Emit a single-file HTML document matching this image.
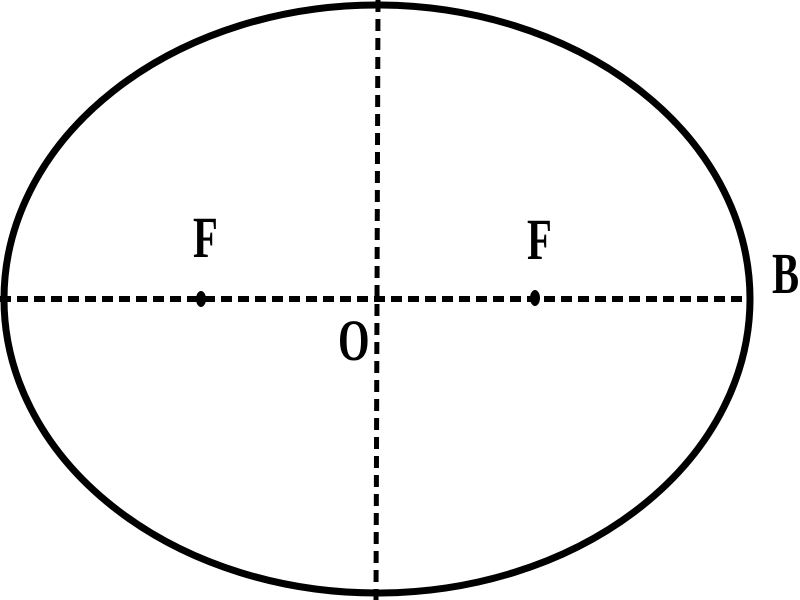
<!DOCTYPE html>
<html><head><style>
html,body{margin:0;padding:0;background:#fff;}
svg{display:block}
text{font-family:"Liberation Serif",serif;font-weight:bold;font-size:58px;fill:#000}
</style></head><body>
<svg width="800" height="600" viewBox="0 0 800 600">
<ellipse cx="377" cy="299" rx="373" ry="294" fill="none" stroke="#000" stroke-width="7"/>
<line x1="0" y1="299" x2="750" y2="299" stroke="#000" stroke-width="6" stroke-dasharray="11,6"/>
<line x1="378" y1="0" x2="376" y2="600" stroke="#000" stroke-width="5" stroke-dasharray="12,7"/>
<ellipse cx="201" cy="299" rx="5" ry="8" fill="#000"/>
<ellipse cx="535" cy="298" rx="5" ry="8" fill="#000"/>
<text transform="translate(193,257) scale(0.7,1)">F</text>
<text transform="translate(527,259) scale(0.7,1)">F</text>
<text transform="translate(338,360) scale(0.7,1)">O</text>
<text transform="translate(772,293) scale(0.7,1)">B</text>
</svg>
</body></html>
